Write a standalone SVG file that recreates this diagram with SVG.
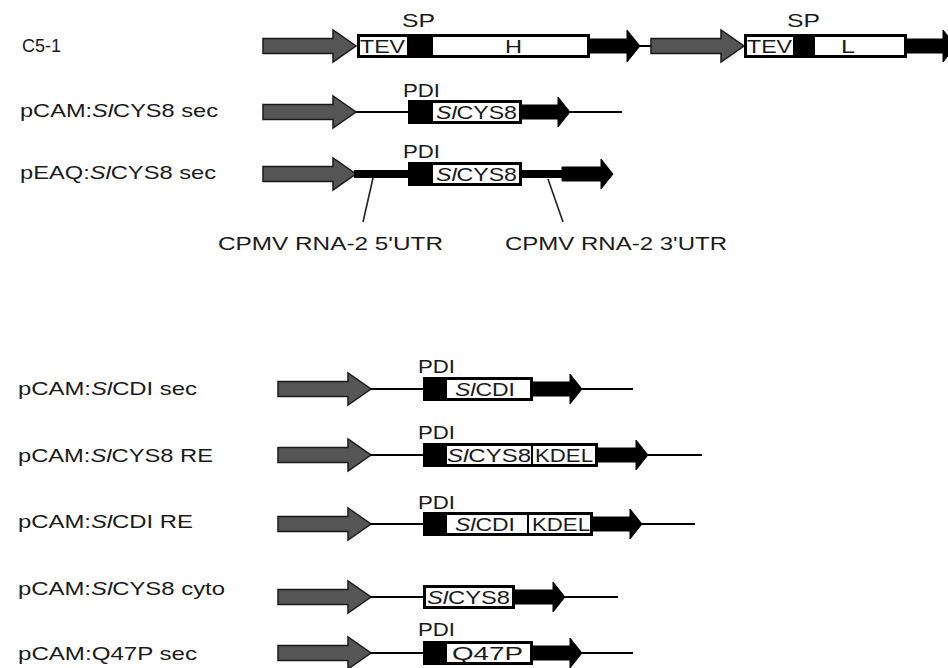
<svg xmlns="http://www.w3.org/2000/svg" xmlns:xlink="http://www.w3.org/1999/xlink" width="948" height="668" viewBox="0 0 948 668">
<style>
text{font-family:"Liberation Sans",Arial,sans-serif;fill:#1a1a1a;}
.lbl{font-size:19px;}
.in{font-size:19px;}
.ga{fill:#555;stroke:#1a1a1a;stroke-width:1.5;stroke-linejoin:miter;}
.ba{fill:#000;stroke:#000;stroke-width:1;}
.frame{fill:#000;}
.win{fill:#fff;}
.ln{stroke:#000;stroke-width:2;fill:none;}
.utr{fill:#000;}
.call{stroke:#222;stroke-width:1.6;fill:none;}
.it{font-style:italic;}
</style>
<defs>
<path id="garrow" class="ga" d="M0,-7.5 H70 V-16 L93,0 L70,16 V7.5 H0 Z"/>
</defs>
<rect width="948" height="668" fill="#fff"/>

<!-- labels -->
<g id="labels">
<text class="lbl" x="22" y="52" textLength="39" lengthAdjust="spacingAndGlyphs">C5-1</text>
<text class="lbl" x="20" y="117" textLength="198" lengthAdjust="spacingAndGlyphs">pCAM:<tspan class="it">Sl</tspan>CYS8 sec</text>
<text class="lbl" x="20" y="179" textLength="196" lengthAdjust="spacingAndGlyphs">pEAQ:<tspan class="it">Sl</tspan>CYS8 sec</text>
<text class="lbl" x="18" y="395" textLength="179" lengthAdjust="spacingAndGlyphs">pCAM:<tspan class="it">Sl</tspan>CDI sec</text>
<text class="lbl" x="18" y="462" textLength="195" lengthAdjust="spacingAndGlyphs">pCAM:<tspan class="it">Sl</tspan>CYS8 RE</text>
<text class="lbl" x="18" y="528" textLength="175" lengthAdjust="spacingAndGlyphs">pCAM:<tspan class="it">Sl</tspan>CDI RE</text>
<text class="lbl" x="18" y="595" textLength="207" lengthAdjust="spacingAndGlyphs">pCAM:<tspan class="it">Sl</tspan>CYS8 cyto</text>
<text class="lbl" x="18" y="660" textLength="179" lengthAdjust="spacingAndGlyphs">pCAM:Q47P sec</text>
</g>

<!-- C5-1 -->
<g id="c51">
<use xlink:href="#garrow" href="#garrow" x="263" y="46"/>
<rect class="frame" x="357" y="34" width="233" height="24"/>
<rect class="win" x="360" y="37" width="47" height="18"/>
<rect class="win" x="433" y="37" width="154" height="18"/>
<text class="in" x="360" y="53" textLength="45" lengthAdjust="spacingAndGlyphs">TEV</text>
<text class="in" x="505" y="53" textLength="17" lengthAdjust="spacingAndGlyphs">H</text>
<text class="lbl" x="402" y="27" textLength="33" lengthAdjust="spacingAndGlyphs">SP</text>
<path class="ba" d="M590,39 H627 V30 L640,46 L627,62 V53 H590 Z"/>
<line class="ln" x1="640" y1="46" x2="652" y2="46"/>
<use xlink:href="#garrow" href="#garrow" x="651" y="46"/>
<rect class="frame" x="744" y="34" width="163" height="24"/>
<rect class="win" x="747" y="37" width="46" height="18"/>
<rect class="win" x="815" y="37" width="89" height="18"/>
<text class="in" x="747" y="53" textLength="45" lengthAdjust="spacingAndGlyphs">TEV</text>
<text class="in" x="841" y="53" textLength="14" lengthAdjust="spacingAndGlyphs">L</text>
<text class="lbl" x="787" y="27" textLength="33" lengthAdjust="spacingAndGlyphs">SP</text>
<path class="ba" d="M907,39 H943 V30 L956,46 L943,62 V53 H907 Z"/>
</g>

<!-- pCAM:SlCYS8 sec -->
<g id="pcam-cys8-sec">
<use xlink:href="#garrow" href="#garrow" x="263" y="112"/>
<line class="ln" x1="355" y1="112" x2="408" y2="112"/>
<rect class="frame" x="408" y="100" width="114" height="24"/>
<rect class="win" x="433" y="103" width="86" height="18"/>
<text class="in" x="436" y="119" textLength="81" lengthAdjust="spacingAndGlyphs"><tspan class="it">Sl</tspan>CYS8</text>
<text class="lbl" x="403" y="97" textLength="37" lengthAdjust="spacingAndGlyphs">PDI</text>
<path class="ba" d="M522,105 H558 V97 L570,112 L558,127 V119 H522 Z"/>
<line class="ln" x1="570" y1="112" x2="622" y2="112"/>
</g>

<!-- pEAQ:SlCYS8 sec -->
<g id="peaq-cys8-sec">
<use xlink:href="#garrow" href="#garrow" x="263" y="174"/>
<rect class="utr" x="354" y="170" width="56" height="8"/>
<rect class="frame" x="408" y="162" width="114" height="24"/>
<rect class="win" x="433" y="165" width="86" height="18"/>
<text class="in" x="436" y="181" textLength="81" lengthAdjust="spacingAndGlyphs"><tspan class="it">Sl</tspan>CYS8</text>
<text class="lbl" x="403" y="158" textLength="37" lengthAdjust="spacingAndGlyphs">PDI</text>
<rect class="utr" x="520" y="170" width="45" height="8"/>
<path class="ba" d="M562,167 H601 V159 L613,174 L601,189 V181 H562 Z"/>
</g>

<g id="connectors">
<line class="call" x1="373" y1="178" x2="363" y2="222"/>
<line class="call" x1="548" y1="179" x2="563" y2="222"/>
</g>

<g id="utr-labels">
<text class="lbl" x="218" y="250" textLength="225" lengthAdjust="spacingAndGlyphs">CPMV RNA-2 5'UTR</text>
<text class="lbl" x="505" y="250" textLength="222" lengthAdjust="spacingAndGlyphs">CPMV RNA-2 3'UTR</text>
</g>

<!-- pCAM:SlCDI sec -->
<g id="pcam-cdi-sec">
<use xlink:href="#garrow" href="#garrow" x="278" y="389"/>
<line class="ln" x1="370" y1="389" x2="423" y2="389"/>
<rect class="frame" x="423" y="377" width="110" height="24"/>
<rect class="win" x="447" y="380" width="83" height="18"/>
<text class="in" x="455" y="396" textLength="60" lengthAdjust="spacingAndGlyphs"><tspan class="it">Sl</tspan>CDI</text>
<text class="lbl" x="418" y="373" textLength="37" lengthAdjust="spacingAndGlyphs">PDI</text>
<path class="ba" d="M533,382 H570 V374 L582,389 L570,404 V396 H533 Z"/>
<line class="ln" x1="582" y1="389" x2="633" y2="389"/>
</g>

<!-- pCAM:SlCYS8 RE -->
<g id="pcam-cys8-re">
<use xlink:href="#garrow" href="#garrow" x="278" y="455"/>
<line class="ln" x1="370" y1="455" x2="423" y2="455"/>
<rect class="frame" x="423" y="443" width="175" height="24"/>
<rect class="win" x="447" y="446" width="84" height="18"/>
<rect class="win" x="533" y="446" width="62" height="18"/>
<text class="in" x="447" y="462" textLength="84" lengthAdjust="spacingAndGlyphs"><tspan class="it">Sl</tspan>CYS8</text>
<text class="in" x="535" y="462" textLength="58" lengthAdjust="spacingAndGlyphs">KDEL</text>
<text class="lbl" x="418" y="439" textLength="37" lengthAdjust="spacingAndGlyphs">PDI</text>
<path class="ba" d="M598,448 H636 V440 L648,455 L636,470 V462 H598 Z"/>
<line class="ln" x1="648" y1="455" x2="702" y2="455"/>
</g>

<!-- pCAM:SlCDI RE -->
<g id="pcam-cdi-re">
<use xlink:href="#garrow" href="#garrow" x="278" y="524"/>
<line class="ln" x1="370" y1="524" x2="423" y2="524"/>
<rect class="frame" x="423" y="512" width="170" height="24"/>
<rect class="win" x="447" y="515" width="80" height="18"/>
<rect class="win" x="529" y="515" width="61" height="18"/>
<text class="in" x="455" y="531" textLength="60" lengthAdjust="spacingAndGlyphs"><tspan class="it">Sl</tspan>CDI</text>
<text class="in" x="532" y="531" textLength="58" lengthAdjust="spacingAndGlyphs">KDEL</text>
<text class="lbl" x="418" y="509" textLength="37" lengthAdjust="spacingAndGlyphs">PDI</text>
<path class="ba" d="M593,517 H630 V509 L642,524 L630,539 V531 H593 Z"/>
<line class="ln" x1="642" y1="524" x2="695" y2="524"/>
</g>

<!-- pCAM:SlCYS8 cyto -->
<g id="pcam-cys8-cyto">
<use xlink:href="#garrow" href="#garrow" x="278" y="597"/>
<line class="ln" x1="370" y1="597" x2="423" y2="597"/>
<rect class="frame" x="423" y="585" width="92" height="24"/>
<rect class="win" x="426" y="588" width="86" height="18"/>
<text class="in" x="427" y="604" textLength="83" lengthAdjust="spacingAndGlyphs"><tspan class="it">Sl</tspan>CYS8</text>
<path class="ba" d="M515,590 H553 V582 L565,597 L553,612 V604 H515 Z"/>
<line class="ln" x1="565" y1="597" x2="618" y2="597"/>
</g>

<!-- pCAM:Q47P sec -->
<g id="pcam-q47p-sec">
<use xlink:href="#garrow" href="#garrow" x="278" y="653"/>
<line class="ln" x1="370" y1="653" x2="423" y2="653"/>
<rect class="frame" x="423" y="641" width="110" height="24"/>
<rect class="win" x="447" y="644" width="83" height="18"/>
<text class="in" x="452" y="660" textLength="71" lengthAdjust="spacingAndGlyphs">Q47P</text>
<text class="lbl" x="418" y="636" textLength="37" lengthAdjust="spacingAndGlyphs">PDI</text>
<path class="ba" d="M533,646 H570 V638 L582,653 L570,668 V660 H533 Z"/>
<line class="ln" x1="582" y1="653" x2="633" y2="653"/>
</g>
</svg>
